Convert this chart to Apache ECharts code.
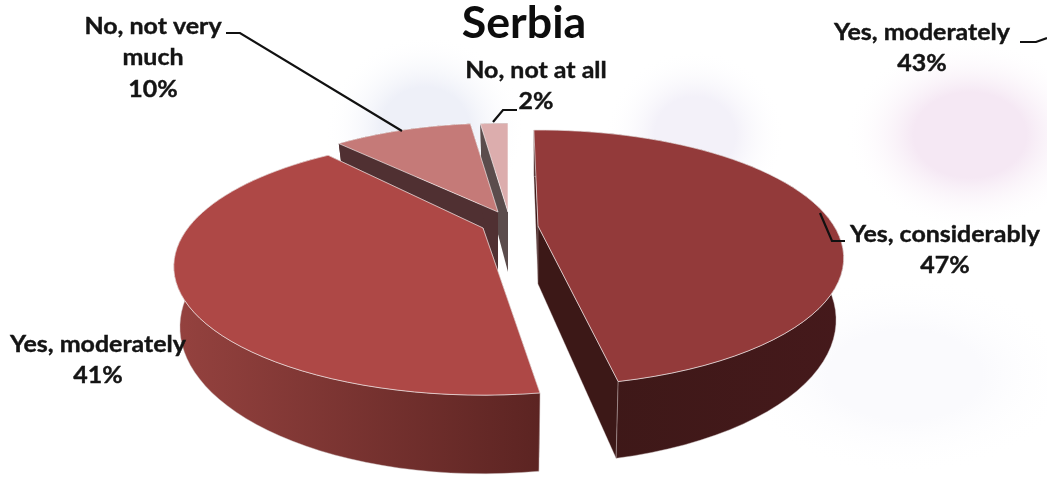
<!DOCTYPE html>
<html><head><meta charset="utf-8">
<style>html,body{margin:0;padding:0;background:#fff}#c{width:1047px;height:483px}</style>
<script src="https://cdn.jsdelivr.net/npm/echarts@6/dist/echarts.min.js"></script>
</head><body><div id="c"></div>
<script>
const categories = ['Yes, considerably', 'Yes, moderately', 'No, not very much', 'No, not at all'];
const values = [47, 41, 10, 2];
const extraLabel = ['Yes, moderately', 43];
const titleText = 'Serbia';
const topColors = ['#933a3a', '#ae4846', '#c57a78', '#dcadad'];
const cutColors = ['#3c1817', '#5a2422', '#503032', '#5b4c4c'];
const wallFrom = ['#3c1817', '#95423f', '#503032', '#5b4c4c'];
const wallTo = ['#45191b', '#5c2422', '#503032', '#5b4c4c'];
const sliceCx = [538, 483, 498, 508];
const sliceCy = [226, 228, 212, 212];
const sliceRx = [296, 295, 275, 275];
const sliceRy = [120, 117, 111, 111];
const sliceK = [0.25, 0.3, 0.25, 0.25];
const sliceD = [58, 55, 60, 60];
const sliceRot = [-1, 3, 0, 0];
const sliceBottomX = [0.975, 0.98, 0.96, 0.96];
const total = values.reduce((a, b) => a + b, 0);

function project(i, deg, low) {
  const t = deg * Math.PI / 180, u = Math.sin(t), v = Math.cos(t), w = 1 + sliceK[i] * v;
  const dx = sliceRx[i] * u / w;
  const dy = -sliceRy[i] * v / w;
  return low
    ? [sliceCx[i] + dx * sliceBottomX[i], sliceCy[i] + dy + sliceD[i] / w]
    : [sliceCx[i] + dx, sliceCy[i] + dy];
}

function renderItem(params, api) {
  const i = params.dataIndex;
  let before = 0;
  for (let k = 0; k < i; k++) before += values[k];
  const a0 = before / total * 360 + sliceRot[i];
  const a1 = (before + api.value(0)) / total * 360 + sliceRot[i];
  const top = [], low = [], steps = 60;
  for (let n = 0; n <= steps; n++) {
    const a = a0 + (a1 - a0) * n / steps;
    top.push(project(i, a, false));
    low.push(project(i, a, true));
  }
  const c = [sliceCx[i], sliceCy[i]];
  const cLow = [sliceCx[i], sliceCy[i] + sliceD[i]];
  const base = (4 - i) * 10;
  const edge = i < 2 ? 'rgba(200,185,185,0.55)' : 'rgba(0,0,0,0)';
  const poly = (points, style, z) => ({ type: 'polygon', shape: { points }, style, z2: base + z, silent: true });
  return {
    type: 'group',
    children: [
      poly([c, top[0], low[0], cLow], { fill: cutColors[i], stroke: edge, lineWidth: 0.6 }, 0),
      poly([c, top[steps], low[steps], cLow], { fill: cutColors[i], stroke: edge, lineWidth: 0.6 }, 1),
      poly(top.concat(low.slice().reverse()), {
        fill: { type: 'linear', x: 0, y: 0, x2: 1, y2: 0, colorStops: [{ offset: 0, color: wallFrom[i] }, { offset: 1, color: wallTo[i] }] },
        stroke: edge, lineWidth: 0.8
      }, 2),
      poly([c].concat(top), { fill: topColors[i], stroke: 'rgba(255,255,255,0.6)', lineWidth: 1 }, 3)
    ]
  };
}

function blob(cx, cy, rx, ry, color) {
  return { type: 'circle', silent: true, z: -1, x: cx, y: cy, scaleX: rx, scaleY: ry, shape: { cx: 0, cy: 0, r: 1 },
    style: { fill: { type: 'radial', x: 0.5, y: 0.5, r: 0.5, colorStops: [
      { offset: 0, color }, { offset: 0.45, color }, { offset: 1, color: 'rgba(255,255,255,0)' }] } } };
}
function label(text, x, y) {
  return { type: 'text', silent: true, z: 20, x, y, scaleX: 1.085,
    style: { text, fill: '#141414', stroke: '#141414', lineWidth: 0.4, font: 'bold 23px Lato', align: 'center', verticalAlign: 'middle' } };
}
function leader(points) {
  return { type: 'polyline', silent: true, z: 20, shape: { points }, style: { stroke: '#111', lineWidth: 2.2, fill: null } };
}

const chart = echarts.init(document.getElementById('c'), null, { renderer: 'canvas' });
chart.setOption({
  animation: false,
  backgroundColor: '#fff',
  graphic: [
    blob(425, 130, 100, 95, '#eef0f8'),
    blob(695, 135, 90, 85, '#f3f1f9'),
    blob(970, 135, 125, 95, '#f5e8f4'),
    blob(905, 375, 170, 100, '#fafafd'),
    { type: 'text', silent: true, z: 20, x: 524, y: 24, scaleX: 1.04,
      style: { text: titleText, fill: '#0d0d0d', font: 'bold 43px Lato', align: 'center', verticalAlign: 'middle' } },
    label(categories[2].replace(' much', ''), 153, 27),
    label('much', 153, 58),
    label(values[2] + '%', 153, 90),
    label(categories[3], 536, 71),
    label(values[3] + '%', 536, 102),
    label(extraLabel[0], 922, 33),
    label(extraLabel[1] + '%', 922, 64),
    label(categories[0], 945, 235),
    label(values[0] + '%', 945, 266),
    label(categories[1], 98, 345),
    label(values[1] + '%', 98, 376),
    leader([[226, 33], [240, 33], [402, 131]]),
    leader([[1020, 42], [1036, 42], [1047, 38]]),
    leader([[493, 122], [503, 110], [517, 110]]),
    leader([[820, 213], [832, 241], [845, 241]])
  ],
  series: [{ type: 'custom', coordinateSystem: 'none', silent: true, renderItem,
    data: values.map((v, i) => ({ name: categories[i], value: [v] })) }]
});
</script></body></html>
